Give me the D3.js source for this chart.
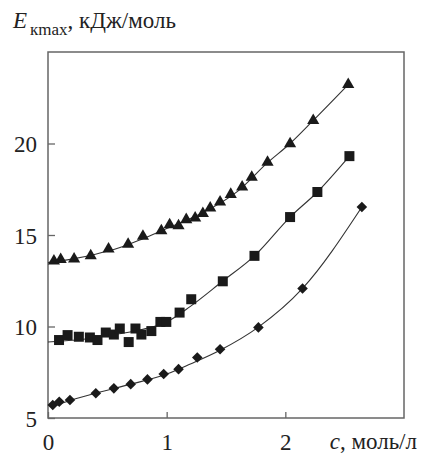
<!DOCTYPE html>
<html>
<head>
<meta charset="utf-8">
<script src="https://cdn.jsdelivr.net/npm/d3@7"></script>
<style>
  body { margin: 0; background: #fff; }
  text { fill: #222; }
</style>
</head>
<body>
<div id="chart"></div>
<script>
// measured points: c (моль/л) and E (кДж/моль)
var triC = [0.05, 0.107, 0.22, 0.36, 0.51, 0.675, 0.80, 0.955, 1.025, 1.10, 1.165, 1.24, 1.305, 1.367, 1.45, 1.54, 1.636, 1.717, 1.85, 2.04, 2.235, 2.53];
var triE = [13.58, 13.66, 13.69, 13.87, 14.24, 14.49, 14.93, 15.23, 15.56, 15.5, 15.84, 15.93, 16.17, 16.47, 16.8, 17.22, 17.62, 18.16, 18.98, 19.99, 21.26, 23.22];

var sqC = [0.093, 0.165, 0.26, 0.353, 0.417, 0.487, 0.555, 0.605, 0.68, 0.737, 0.787, 0.871, 0.947, 0.997, 1.109, 1.207, 1.473, 1.74, 2.04, 2.27, 2.54];
var sqE = [9.26, 9.53, 9.44, 9.40, 9.26, 9.67, 9.56, 9.89, 9.15, 9.89, 9.56, 9.75, 10.25, 10.25, 10.76, 11.49, 12.47, 13.86, 15.98, 17.35, 19.31];

var diaC = [0.04, 0.095, 0.185, 0.403, 0.555, 0.697, 0.838, 0.975, 1.10, 1.258, 1.45, 1.773, 2.145, 2.645];
var diaE = [5.71, 5.89, 5.98, 6.35, 6.62, 6.85, 7.11, 7.40, 7.67, 8.31, 8.76, 9.95, 12.08, 16.53];

// smoothed curves as drawn in the figure
var triFitC = [0.0, 0.2, 0.4, 0.6, 0.8, 1.0, 1.2, 1.4, 1.6, 1.85, 2.04, 2.235, 2.53];
var triFitE = [13.5, 13.68, 13.95, 14.3, 14.8, 15.35, 15.9, 16.55, 17.4, 18.95, 20.0, 21.26, 23.22];

var sqFitC = [0.0, 0.3, 0.6, 0.8, 1.0, 1.2, 1.47, 1.74, 2.04, 2.27, 2.54];
var sqFitE = [9.15, 9.3, 9.6, 9.85, 10.25, 11.1, 12.47, 13.86, 15.98, 17.35, 19.31];

var diaFitC = [0.03, 0.2, 0.4, 0.7, 1.0, 1.2, 1.45, 1.77, 2.145, 2.645];
var diaFitE = [5.6, 5.98, 6.35, 6.85, 7.4, 7.95, 8.7, 9.95, 12.08, 16.53];

var xTicks = [0, 1, 2];
var yTicks = [5, 10, 15, 20];

var serif = "'Liberation Serif', Tinos, 'Times New Roman', Times, 'Nimbus Roman', 'Nimbus Roman No9 L', 'Noto Serif', FreeSerif, 'DejaVu Serif', serif";

var margin = { top: 52, right: 17, bottom: 37, left: 48 },
    width = 421 - margin.left - margin.right,
    height = 455 - margin.top - margin.bottom;

var x = d3.scaleLinear().domain( [ 0, 3 ] ).range( [ 0, width ] );
var y = d3.scaleLinear().domain( [ 5, 25 ] ).range( [ height, 0 ] );

var svg = d3.select( "#chart" ).append( "svg" )
    .attr( "width", 421 )
    .attr( "height", 455 );

var g = svg.append( "g" )
    .attr( "transform", "translate(" + margin.left + "," + margin.top + ")" );

// frame
g.append( "rect" )
    .attr( "width", width )
    .attr( "height", height )
    .attr( "fill", "none" )
    .attr( "stroke", "#666" )
    .attr( "stroke-width", 1.5 );

// axes, ticks pointing inward
var xAxis = g.append( "g" )
    .attr( "transform", "translate(0," + height + ")" )
    .call( d3.axisBottom( x ).tickValues( xTicks ).tickSize( -6 ).tickPadding( 20 ).tickFormat( d3.format( "d" ) ) );
var yAxis = g.append( "g" )
    .call( d3.axisLeft( y ).tickValues( yTicks ).tickSize( -7 ).tickPadding( 11 ).tickFormat( d3.format( "d" ) ) );

[ xAxis, yAxis ].forEach( function( a ) {
    a.attr( "font-family", serif ).attr( "font-size", 23 );
    a.select( ".domain" ).remove();
    a.selectAll( ".tick line" ).attr( "stroke", "#666" ).attr( "stroke-width", 1.3 );
    a.selectAll( ".tick text" ).attr( "fill", "#222" );
});
xAxis.selectAll( ".tick text" ).attr( "dy", "0.5em" );
yAxis.selectAll( ".tick text" ).attr( "dy", "0.35em" );

// fitted curves
function zip( cs, es ) {
    return cs.map( function( c, i ) { return { c: c, e: es[ i ] }; } );
}
var line = d3.line()
    .x( function( d ) { return x( d.c ); } )
    .y( function( d ) { return y( d.e ); } )
    .curve( d3.curveMonotoneX );

[ zip( triFitC, triFitE ), zip( sqFitC, sqFitE ), zip( diaFitC, diaFitE ) ].forEach( function( d ) {
    g.append( "path" )
        .datum( d )
        .attr( "d", line )
        .attr( "fill", "none" )
        .attr( "stroke", "#333" )
        .attr( "stroke-width", 1.1 );
});

// markers
var series = [
    { data: zip( triC, triE ), sym: d3.symbolTriangle, size: 64, rot: 0 },
    { data: zip( sqC, sqE ), sym: d3.symbolSquare, size: 100, rot: 0 },
    { data: zip( diaC, diaE ), sym: d3.symbolSquare, size: 56, rot: 45 }
];
series.forEach( function( s ) {
    g.selectAll( null )
        .data( s.data )
        .enter().append( "path" )
        .attr( "d", d3.symbol().type( s.sym ).size( s.size ) )
        .attr( "transform", function( d ) {
            return "translate(" + x( d.c ) + "," + y( d.e ) + ") rotate(" + s.rot + ")";
        })
        .attr( "fill", "#1a1a1a" );
});

// y title
var yt = svg.append( "text" )
    .attr( "x", 13 )
    .attr( "y", 28 )
    .attr( "font-family", serif )
    .attr( "font-size", 23 );
yt.append( "tspan" ).attr( "font-style", "italic" ).text( "E" );
yt.append( "tspan" ).attr( "dx", 3 ).attr( "dy", 7 ).attr( "font-size", 17 ).text( "кmax" );
yt.append( "tspan" ).attr( "dy", -7 ).text( ", кДж/моль" );

// x title
var xt = svg.append( "text" )
    .attr( "x", 417 )
    .attr( "y", 449 )
    .attr( "text-anchor", "end" )
    .attr( "font-family", serif )
    .attr( "font-size", 23 );
xt.append( "tspan" ).attr( "font-style", "italic" ).text( "c" );
xt.append( "tspan" ).text( ", моль/л" );
</script>
</body>
</html>
